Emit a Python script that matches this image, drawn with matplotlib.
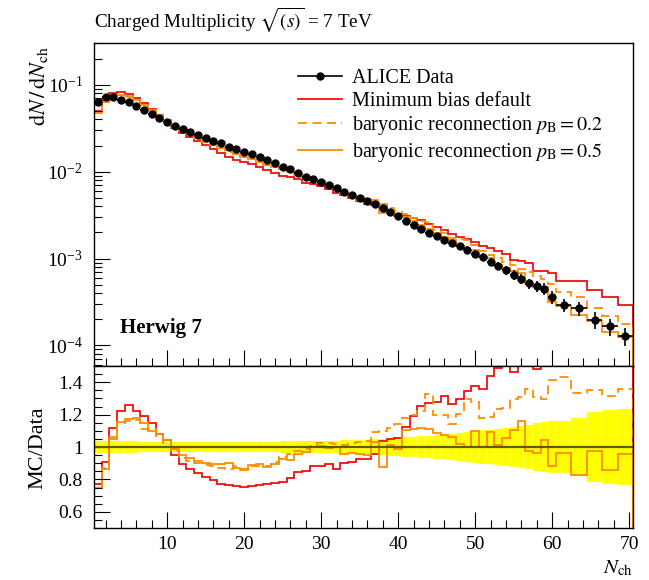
import numpy as np
import matplotlib.pyplot as plt
from matplotlib.lines import Line2D
from matplotlib.ticker import MultipleLocator, LogLocator, NullFormatter, FixedLocator, FixedFormatter

plt.rcParams['font.family'] = ['Liberation Serif', 'DejaVu Serif']
plt.rcParams['mathtext.fontset'] = 'stix'
plt.rcParams['font.size'] = 14

# bins: N_ch = 1..60 one wide, then 2 wide up to 70
edges = np.array(list(np.arange(0.5, 61.0, 1.0)) + [62.5, 64.5, 66.5, 68.5, 70.5])

# ALICE data, dN/dN_ch
data = [0.0642, 0.0733, 0.0722, 0.0672, 0.0632, 0.0573, 0.0515, 0.0463, 0.0414, 0.0375,
        0.0340, 0.0312, 0.0288, 0.0266, 0.0248, 0.0229, 0.0213, 0.0195, 0.0182, 0.0171,
        0.0160, 0.0147, 0.0137, 0.0126, 0.0115, 0.0107, 0.00964, 0.00881, 0.00828, 0.00771,
        0.00713, 0.00653, 0.00592, 0.00547, 0.00497, 0.00462, 0.00430, 0.00384, 0.00345, 0.00311,
        0.00274, 0.00245, 0.00220, 0.00198, 0.00180, 0.00164, 0.00153, 0.00138, 0.00126, 0.00113,
        0.00104, 0.000926, 0.000826, 0.000743, 0.000655, 0.000586, 0.000520, 0.000486, 0.000450, 0.000361,
        0.000292, 0.000269, 0.000198, 0.000166, 0.000129]

# relative data uncertainty
rel_err = [0.036, 0.036, 0.035, 0.035, 0.034, 0.034, 0.033, 0.033, 0.033, 0.033,
           0.033, 0.033, 0.033, 0.033, 0.033, 0.033, 0.033, 0.033, 0.033, 0.033,
           0.033, 0.033, 0.033, 0.033, 0.034, 0.034, 0.035, 0.036, 0.037, 0.038,
           0.039, 0.040, 0.041, 0.042, 0.043, 0.045, 0.048, 0.051, 0.054, 0.058,
           0.061, 0.064, 0.067, 0.070, 0.072, 0.075, 0.078, 0.087, 0.095, 0.100,
           0.103, 0.107, 0.110, 0.117, 0.123, 0.129, 0.135, 0.147, 0.154, 0.160,
           0.161, 0.178, 0.213, 0.226, 0.236]

# MC / Data
ratio_default = [0.774, 0.908, 1.115, 1.222, 1.260, 1.222, 1.190, 1.146, 1.082, 1.041,
                 0.951, 0.897, 0.867, 0.842, 0.817, 0.795, 0.774, 0.764, 0.760, 0.754,
                 0.760, 0.766, 0.770, 0.777, 0.785, 0.811, 0.846, 0.852, 0.883, 0.883,
                 0.893, 0.867, 0.904, 0.908, 0.924, 0.928, 0.955, 1.037, 1.047, 1.057,
                 1.123, 1.191, 1.252, 1.273, 1.277, 1.314, 1.263, 1.297, 1.343, 1.374,
                 1.355, 1.437, 1.486, 1.520, 1.460, 1.600, 1.700, 1.480, 1.620, 1.900,
                 1.870, 2.030, 2.200, 2.200, 2.280]

ratio_pb02 = [0.750, 0.870, 1.060, 1.146, 1.160, 1.166, 1.113, 1.109, 1.068, 1.027,
              0.975, 0.934, 0.914, 0.900, 0.887, 0.883, 0.873, 0.863, 0.883, 0.863,
              0.883, 0.883, 0.883, 0.910, 0.940, 0.955, 0.975, 0.990, 1.006, 1.023,
              1.023, 1.016, 1.010, 1.027, 1.031, 1.040, 1.090, 1.100, 1.120, 1.140,
              1.180, 1.195, 1.220, 1.330, 1.200, 1.198, 1.140, 1.205, 1.295, 1.277,
              1.181, 1.188, 1.232, 1.242, 1.298, 1.308, 1.355, 1.308, 1.298, 1.416,
              1.431, 1.335, 1.349, 1.314, 1.359]

ratio_pb05 = [0.744, 0.863, 1.051, 1.154, 1.174, 1.180, 1.150, 1.098, 1.082, 1.041,
              0.986, 0.949, 0.934, 0.914, 0.904, 0.893, 0.893, 0.904, 0.873, 0.856,
              0.887, 0.893, 0.877, 0.893, 0.925, 0.920, 0.955, 0.969, 1.002, 1.006,
              0.996, 1.002, 0.955, 0.965, 0.959, 0.949, 1.030, 0.879, 1.010, 0.990,
              1.105, 1.110, 1.119, 1.110, 1.085, 1.075, 1.060, 1.021, 1.003, 1.100,
              0.998, 1.095, 1.010, 1.056, 1.106, 1.160, 0.975, 0.965, 1.041, 0.883,
              0.965, 0.826, 0.974, 0.861, 0.959]

labels = ['ALICE Data', 'Minimum bias default',
          r'baryonic reconnection $p_\mathrm{B} = 0.2$',
          r'baryonic reconnection $p_\mathrm{B} = 0.5$']

red = '#f01010'
orange = '#ff8c00'

data = np.array(data)
rel_err = np.array(rel_err)
centers = 0.5 * (edges[1:] + edges[:-1])
widths = edges[1:] - edges[:-1]

fig = plt.figure(figsize=(6.49, 5.8), dpi=100)
ax = fig.add_axes([94 / 649, 1 - 366 / 580, 539 / 649, 323 / 580])
rax = fig.add_axes([94 / 649, 1 - 528 / 580, 539 / 649, 162 / 580], sharex=ax)

# main panel
ax.stairs(data * np.array(ratio_default), edges, color=red, lw=1.3)
ax.stairs(data * np.array(ratio_pb02), edges, color=orange, lw=1.3, ls=(0, (5, 3)))
ax.stairs(data * np.array(ratio_pb05), edges, color=orange, lw=1.3)
ax.errorbar(centers, data, xerr=widths / 2, yerr=data * rel_err, fmt='o', color='k',
            ms=5, elinewidth=1.2, capsize=0, zorder=5)
ax.set_yscale('log')
ax.set_ylim(5.8e-5, 0.304)
ax.set_xlim(0.5, 70.5)

handles = [Line2D([], [], color='k', marker='o', ms=5, lw=1.2),
           Line2D([], [], color=red, lw=1.3),
           Line2D([], [], color=orange, lw=1.3, ls=(0, (5, 3))),
           Line2D([], [], color=orange, lw=1.3)]
ax.legend(handles, labels, loc='upper left', bbox_to_anchor=(298 / 649, 1 - 69 / 580),
          bbox_transform=fig.transFigure, frameon=False, borderpad=0, borderaxespad=0,
          handlelength=2.2, handletextpad=0.5, labelspacing=0.18, fontsize=14.5)

ax.text(0.048, 0.118, 'Herwig 7', transform=ax.transAxes, fontweight='bold',
        va='center', ha='left', fontsize=15)

# ratio panel
rax.bar(centers, 2 * rel_err, bottom=1 - rel_err, width=widths, color='#ffff00',
        edgecolor='#ffff80', lw=0.3)
rax.axhline(1.0, color='#5e5e00', lw=1.6)
rax.stairs(ratio_default, edges, color=red, lw=1.3)
rax.stairs(ratio_pb02, edges, color=orange, lw=1.3, ls=(0, (5, 3)))
rax.stairs(ratio_pb05, edges, color=orange, lw=1.3)
rax.set_ylim(0.5, 1.5)

# ticks
for a in (ax, rax):
    a.tick_params(which='major', direction='in', length=11.5, width=0.8,
                  top=False, right=False, pad=8, labelsize=14)
    a.tick_params(which='minor', direction='in', length=5.5, width=0.8,
                  top=False, right=False)
    a.xaxis.set_major_locator(MultipleLocator(10))
    a.xaxis.set_minor_locator(MultipleLocator(2))
    for s in a.spines.values():
        s.set_linewidth(1.0)
ax.yaxis.set_major_locator(LogLocator(base=10))
ax.yaxis.set_minor_locator(LogLocator(base=10, subs=np.arange(2, 10)))
ax.yaxis.set_minor_formatter(NullFormatter())
ax.tick_params(labelbottom=False)
rax.yaxis.set_major_locator(FixedLocator([0.6, 0.8, 1.0, 1.2, 1.4]))
rax.yaxis.set_major_formatter(FixedFormatter(['0.6', '0.8', '1', '1.2', '1.4']))
rax.yaxis.set_minor_locator(MultipleLocator(0.05))
rax.tick_params(axis='x', pad=6)

fig.text(94 / 649, 1 - 27 / 580, r'Charged Multiplicity $\sqrt{(s)}$ = 7 TeV',
         ha='left', va='baseline', fontsize=13.8)
fig.text(38 / 649, 1 - 46 / 580, r'$\mathrm{d}N\,/\,\mathrm{d}N_\mathrm{ch}$', rotation=90,
         ha='center', va='top', fontsize=16)
fig.text(38 / 649, 1 - 448 / 580, 'MC/Data', rotation=90, ha='center', va='center', fontsize=16)
fig.text(633 / 649, 1 - 568 / 580, r'$N_\mathrm{ch}$', ha='right', va='center', fontsize=15)

fig.savefig('out.png', dpi=100)
